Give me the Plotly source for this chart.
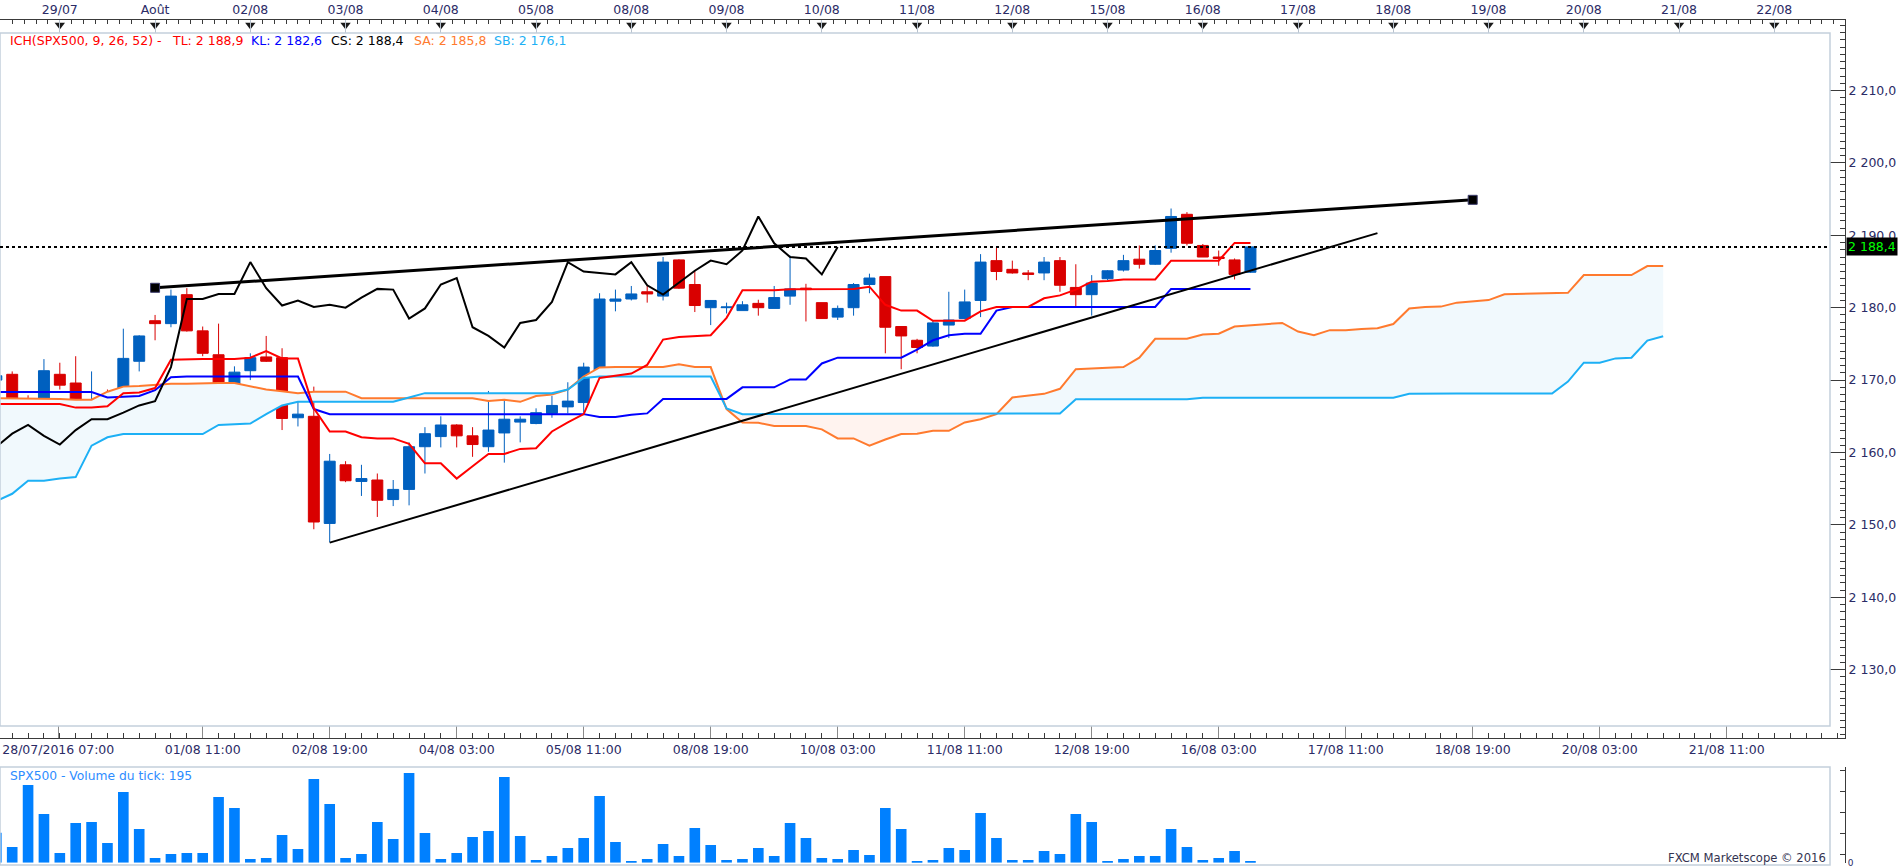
import plotly.graph_objects as go

# SPX500, 4h candles. x = bar slot (weekends removed), slot 0 = 28/07/2016 07:00
first_bar = -5

opens = [2170.0, 2170.8, 2164.6, 2163.3, 2170.8, 2169.6, 2165.1, 2166.9, 2166.9, 2172.6,
         2178.2, 2177.8, 2181.8, 2176.8, 2173.5, 2167.7, 2171.3, 2173.2, 2173.1, 2164.8,
         2165.0, 2150.2, 2158.3, 2156.0, 2156.2, 2153.5, 2154.9, 2160.8, 2162.2, 2163.8,
         2162.3, 2160.8, 2162.7, 2164.2, 2164.0, 2165.4, 2166.3, 2166.9, 2171.3, 2180.9,
         2181.2, 2182.2, 2181.6, 2186.6, 2183.2, 2180.0, 2180.0, 2179.6, 2180.6, 2179.9,
         2181.6, 2182.7, 2180.7, 2178.7, 2180.0, 2183.2, 2184.3, 2177.4, 2175.5, 2174.7,
         2177.6, 2178.5, 2181.0, 2186.5, 2185.3, 2184.8, 2184.8, 2186.5, 2182.8, 2181.8,
         2184.0, 2185.2, 2186.7, 2186.0, 2188.2, 2192.9, 2188.6, 2187.0, 2186.6, 2184.9]
highs = [2171.0, 2171.2, 2167.9, 2172.9, 2172.4, 2173.3, 2171.2, 2168.7, 2177.1, 2176.2,
         2179.0, 2182.5, 2182.7, 2177.4, 2177.8, 2171.9, 2173.7, 2176.1, 2174.4, 2167.4,
         2169.1, 2159.8, 2158.8, 2158.3, 2157.1, 2156.2, 2161.4, 2163.5, 2165.0, 2163.9,
         2163.5, 2168.5, 2167.9, 2165.0, 2166.1, 2167.8, 2169.7, 2172.4, 2182.0, 2182.5,
         2183.0, 2183.0, 2187.0, 2186.7, 2185.2, 2181.0, 2180.7, 2180.9, 2181.1, 2183.0,
         2187.2, 2183.3, 2180.7, 2180.3, 2183.4, 2184.7, 2184.3, 2177.4, 2175.7, 2178.2,
         2182.2, 2182.5, 2187.4, 2188.3, 2186.5, 2185.2, 2187.0, 2187.0, 2186.0, 2184.5,
         2185.2, 2187.3, 2188.6, 2188.6, 2193.7, 2193.2, 2188.8, 2187.9, 2186.8, 2188.5]
lows = [2169.5, 2162.5, 2159.2, 2162.9, 2168.7, 2163.0, 2163.9, 2163.8, 2162.9, 2171.2,
        2175.5, 2177.3, 2176.7, 2173.3, 2165.3, 2165.8, 2170.0, 2172.5, 2163.1, 2163.6,
        2149.4, 2147.6, 2155.9, 2154.0, 2151.1, 2152.6, 2152.7, 2157.1, 2160.7, 2160.7,
        2159.4, 2160.1, 2158.6, 2161.4, 2163.9, 2164.8, 2165.4, 2165.5, 2170.6, 2179.5,
        2181.0, 2180.7, 2181.0, 2182.6, 2179.4, 2177.6, 2179.2, 2179.6, 2178.9, 2179.9,
        2180.4, 2178.1, 2178.5, 2178.3, 2178.9, 2182.0, 2173.7, 2171.5, 2173.7, 2174.6,
        2175.8, 2178.4, 2178.7, 2183.8, 2184.7, 2183.8, 2183.8, 2182.2, 2180.2, 2178.9,
        2183.8, 2185.0, 2185.4, 2185.9, 2187.6, 2188.6, 2187.0, 2185.8, 2183.9, 2184.8]
closes = [2170.6, 2164.2, 2163.0, 2171.3, 2169.3, 2164.9, 2167.1, 2166.6, 2173.0, 2176.1,
          2177.8, 2181.6, 2176.8, 2173.7, 2168.0, 2171.1, 2173.1, 2172.6, 2164.7, 2165.3,
          2150.4, 2158.8, 2156.1, 2156.4, 2153.4, 2154.9, 2160.8, 2162.6, 2163.8, 2162.3,
          2161.1, 2163.1, 2164.6, 2164.6, 2165.5, 2166.5, 2167.1, 2171.8, 2181.2, 2181.2,
          2181.9, 2181.9, 2186.3, 2182.7, 2180.3, 2181.0, 2180.1, 2180.4, 2180.0, 2181.4,
          2182.6, 2182.5, 2178.5, 2179.9, 2183.2, 2184.1, 2177.3, 2176.1, 2174.5, 2177.9,
          2178.3, 2180.8, 2186.3, 2185.0, 2184.8, 2184.6, 2186.3, 2183.1, 2181.8, 2183.4,
          2185.1, 2186.5, 2186.0, 2187.9, 2192.6, 2188.9, 2187.0, 2186.8, 2184.6, 2188.4]
volumes = [3450, 1800, 8940, 5600, 1115, 4565, 4680, 2265, 8130, 3875,
           540, 1000, 1115, 1115, 7555, 6290, 425, 540, 3185, 1575,
           9625, 6750, 540, 1000, 4680, 2725, 10315, 3415, 425, 1115,
           2955, 3645, 9855, 3070, 310, 770, 1690, 2840, 7670, 2380,
           195, 425, 2150, 770, 3990, 2035, 310, 425, 1690, 770,
           4565, 2840, 540, 425, 1460, 885, 6290, 3875, 195, 310,
           1690, 1460, 5715, 2840, 310, 310, 1345, 1000, 5600, 4680,
           195, 425, 770, 770, 3875, 1805, 310, 540, 1345, 195]

# Ichimoku lines as drawn on the chart
tenkan = [2166.7, 2166.7, 2166.7, 2166.7, 2166.7, 2166.2, 2166.2, 2166.4, 2168.2, 2168.3,
          2168.9, 2172.8, 2172.9, 2172.9, 2172.9, 2172.9, 2173.1, 2174.0, 2173.0, 2173.0,
          2166.1, 2162.9, 2162.9, 2162.1, 2161.95, 2161.95, 2161.2, 2158.5, 2158.5, 2156.4,
          2158.1, 2159.8, 2159.8, 2160.5, 2160.6, 2162.9, 2164.15, 2165.3, 2170.3, 2170.65,
          2170.9, 2172.1, 2175.6, 2175.95, 2176.1, 2176.2, 2178.6, 2182.4, 2182.4, 2182.4,
          2182.55, 2182.55, 2182.55, 2182.55, 2182.6, 2182.9, 2180.4, 2179.6, 2179.6, 2178.2,
          2178.2, 2178.2, 2179.5, 2180.1, 2180.1, 2180.1, 2181.3, 2181.7, 2182.5, 2183.6,
          2183.7, 2183.9, 2183.9, 2183.9, 2186.5, 2186.5, 2186.5, 2186.5, 2188.95, 2188.95]
kijun = [2168.35, 2168.35, 2168.35, 2168.35, 2168.35, 2168.35, 2168.35, 2167.6, 2167.7, 2167.8,
         2168.6, 2170.4, 2170.5, 2170.5, 2170.5, 2170.5, 2170.5, 2170.5, 2170.5, 2170.5,
         2166.0, 2165.3, 2165.3, 2165.3, 2165.3, 2165.3, 2165.3, 2165.3, 2165.3, 2165.3,
         2165.3, 2165.3, 2165.3, 2165.3, 2165.3, 2165.3, 2165.3, 2165.3, 2164.9, 2164.9,
         2165.2, 2165.4, 2167.4, 2167.4, 2167.4, 2167.4, 2167.4, 2169.0, 2169.0, 2169.0,
         2170.1, 2170.1, 2172.3, 2173.1, 2173.1, 2173.1, 2173.1, 2173.1, 2174.2, 2175.5,
         2176.2, 2176.4, 2176.4, 2179.6, 2180.1, 2180.1, 2180.1, 2180.1, 2180.1, 2180.1,
         2180.1, 2180.1, 2180.1, 2180.1, 2182.6, 2182.6, 2182.6, 2182.6, 2182.6, 2182.6]
chikou = [2160.8, 2162.6, 2163.8, 2162.3, 2161.1, 2163.1, 2164.6, 2164.6, 2165.5, 2166.5,
          2167.1, 2171.8, 2181.2, 2181.2, 2181.9, 2181.9, 2186.3, 2182.7, 2180.3, 2181.0,
          2180.1, 2180.4, 2180.0, 2181.4, 2182.6, 2182.5, 2178.5, 2179.9, 2183.2, 2184.1,
          2177.3, 2176.1, 2174.5, 2177.9, 2178.3, 2180.8, 2186.3, 2185.0, 2184.8, 2184.6,
          2186.3, 2183.1, 2181.8, 2183.4, 2185.1, 2186.5, 2186.0, 2187.9, 2192.6, 2188.9,
          2187.0, 2186.8, 2184.6, 2188.4]
senkou_a = [2167.5, 2167.5, 2167.5, 2167.5, 2167.4, 2167.3, 2167.3, 2168.4, 2169.1, 2169.2,
            2169.4, 2169.5, 2169.5, 2169.6, 2169.6, 2169.6, 2169.2, 2168.7, 2168.45, 2168.2,
            2168.4, 2168.4, 2168.4, 2167.5, 2167.5, 2167.5, 2167.5, 2167.5, 2167.5, 2167.5,
            2167.5, 2167.1, 2167.3, 2167.0, 2167.8, 2168.0, 2168.7, 2170.5, 2171.75, 2171.8,
            2171.8, 2171.8, 2171.8, 2172.2, 2171.8, 2171.8, 2166.0, 2164.15, 2164.1, 2163.65,
            2163.65, 2163.65, 2163.2, 2161.95, 2161.95, 2160.95, 2161.8, 2162.55, 2162.6, 2163.0,
            2163.0, 2164.15, 2164.6, 2165.3, 2167.6, 2167.8, 2168.1, 2168.8, 2171.5, 2171.6,
            2171.7, 2171.8, 2173.1, 2175.7, 2175.7, 2175.7, 2176.3, 2176.4, 2177.4, 2177.6,
            2177.75, 2177.9, 2176.7, 2176.2, 2176.9, 2176.9, 2177.05, 2177.15, 2177.75, 2179.9,
            2180.1, 2180.15, 2180.7, 2180.9, 2181.05, 2181.85, 2181.9, 2181.9, 2182.0, 2182.05,
            2184.5, 2184.5, 2184.5, 2184.5, 2185.75, 2185.75]
senkou_b = [2153.3, 2154.3, 2156.1, 2156.1, 2156.4, 2156.6, 2160.95, 2162.1, 2162.55, 2162.55,
            2162.55, 2162.55, 2162.55, 2162.55, 2163.8, 2163.9, 2164.0, 2165.3, 2166.5, 2167.0,
            2167.0, 2167.0, 2167.0, 2167.0, 2167.0, 2167.0, 2167.6, 2168.2, 2168.2, 2168.2,
            2168.2, 2168.2, 2168.2, 2168.2, 2168.2, 2168.2, 2168.7, 2170.3, 2170.5, 2170.5,
            2170.5, 2170.5, 2170.5, 2170.5, 2170.5, 2170.5, 2166.1, 2165.3, 2165.3, 2165.3,
            2165.3, 2165.3, 2165.3, 2165.3, 2165.3, 2165.3, 2165.3, 2165.3, 2165.3, 2165.3,
            2165.3, 2165.3, 2165.3, 2165.3, 2165.3, 2165.3, 2165.3, 2165.4, 2167.35, 2167.35,
            2167.35, 2167.35, 2167.35, 2167.35, 2167.35, 2167.35, 2167.55, 2167.55, 2167.55, 2167.55,
            2167.55, 2167.55, 2167.55, 2167.55, 2167.55, 2167.55, 2167.55, 2167.55, 2167.55, 2168.1,
            2168.15, 2168.15, 2168.15, 2168.15, 2168.15, 2168.15, 2168.15, 2168.15, 2168.15, 2169.8,
            2172.4, 2172.4, 2173.0, 2173.1, 2175.45, 2176.05]

# hand drawn trend lines (bar slot, price)
upper_line_x = [5, 88]
upper_line_y = [2182.75, 2194.9]
lower_line_x = [16, 82]
lower_line_y = [2147.55, 2190.3]
last_price = 2188.4

day_labels = ['29/07', 'Août', '02/08', '03/08', '04/08', '05/08', '08/08', '09/08', '10/08',
              '11/08', '12/08', '15/08', '16/08', '17/08', '18/08', '19/08', '20/08', '21/08', '22/08']
time_labels = ['28/07/2016 07:00', '01/08 11:00', '02/08 19:00', '04/08 03:00', '05/08 11:00',
               '08/08 19:00', '10/08 03:00', '11/08 11:00', '12/08 19:00', '16/08 03:00',
               '17/08 11:00', '18/08 19:00', '20/08 03:00', '21/08 11:00']
price_ticks = [2130, 2140, 2150, 2160, 2170, 2180, 2190, 2200, 2210]

# colours
C_UP = '#0060BF'
C_DOWN = '#D90000'
C_TL = '#FF0000'
C_KL = '#0000FF'
C_SA = '#FF7A2E'
C_SB = '#1DB0F5'
C_CLOUD_UP = '#F1F9FD'
C_CLOUD_DN = '#FFF3EF'
C_VOL = '#0080FF'
C_TXT = '#2B2B66'
C_FRAME = '#C3CFDB'
FONT = 'DejaVu Sans'

# page geometry (px)
W, H = 1903, 868
AXIS_X = 1845          # right price axis line
FRAME_R = 1830
SLOT0_PX, SLOT_PX = 75.7, 15.875
P_REF, P_REF_PX, PX_PER_PT = 2190, 235.3, 7.24


def py(p):
    return 1 - p / H


def price_at(px):
    return P_REF - (px - P_REF_PX) / PX_PER_PT


def fmt(v):
    return f'{v:,.1f}'.replace(',', ' ').replace('.', ',')


x_bars = list(range(first_bar, first_bar + len(closes)))
x_cloud = list(range(first_bar, first_bar + len(senkou_a)))
x_chikou = list(range(first_bar, first_bar + len(chikou)))
x_range = [-SLOT0_PX / SLOT_PX, (AXIS_X - SLOT0_PX) / SLOT_PX]
y_range = [price_at(738), price_at(20)]
x_dom = [0, AXIS_X / W]

day_pos = [-1 + 6 * k for k in range(len(day_labels))]
time_pos = [-1.1] + [8 * k for k in range(1, len(time_labels))]

cloud_hi = [max(a, b) for a, b in zip(senkou_a, senkou_b)]
cloud_lo = [min(a, b) for a, b in zip(senkou_a, senkou_b)]

fig = go.Figure()

# cloud fills
fig.add_trace(go.Scatter(x=x_cloud, y=senkou_b, mode='lines', line=dict(width=0), hoverinfo='skip'))
fig.add_trace(go.Scatter(x=x_cloud, y=cloud_hi, mode='lines', line=dict(width=0),
                         fill='tonexty', fillcolor=C_CLOUD_UP, hoverinfo='skip'))
fig.add_trace(go.Scatter(x=x_cloud, y=senkou_b, mode='lines', line=dict(width=0), hoverinfo='skip'))
fig.add_trace(go.Scatter(x=x_cloud, y=cloud_lo, mode='lines', line=dict(width=0),
                         fill='tonexty', fillcolor=C_CLOUD_DN, hoverinfo='skip'))

# ichimoku lines
fig.add_trace(go.Scatter(x=x_cloud, y=senkou_a, mode='lines', line=dict(color=C_SA, width=2), name='SA'))
fig.add_trace(go.Scatter(x=x_cloud, y=senkou_b, mode='lines', line=dict(color=C_SB, width=2), name='SB'))
fig.add_trace(go.Scatter(x=x_bars, y=kijun, mode='lines', line=dict(color=C_KL, width=2), name='KL'))
fig.add_trace(go.Scatter(x=x_bars, y=tenkan, mode='lines', line=dict(color=C_TL, width=2), name='TL'))
fig.add_trace(go.Scatter(x=x_chikou, y=chikou, mode='lines', line=dict(color='black', width=2), name='CS'))

# candles
fig.add_trace(go.Candlestick(
    x=x_bars, open=opens, high=highs, low=lows, close=closes,
    increasing=dict(line=dict(color=C_UP, width=1), fillcolor=C_UP),
    decreasing=dict(line=dict(color=C_DOWN, width=1), fillcolor=C_DOWN),
    whiskerwidth=0, name='SPX500'))

# trend lines
fig.add_trace(go.Scatter(x=lower_line_x, y=lower_line_y, mode='lines',
                         line=dict(color='black', width=2)))
fig.add_trace(go.Scatter(x=upper_line_x, y=upper_line_y, mode='lines+markers',
                         line=dict(color='black', width=3),
                         marker=dict(symbol='square', size=9, color='black',
                                     line=dict(color='#3A3A6A', width=1))))

# day markers on the top ruler
fig.add_trace(go.Scatter(x=day_pos, y=[price_at(25)] * len(day_pos), xaxis='x2', mode='markers',
                         marker=dict(symbol='triangle-down', size=9, color='#1A1A1A'),
                         cliponaxis=False, hoverinfo='skip'))

# volume
fig.add_trace(go.Bar(x=x_bars, y=volumes, width=0.67, marker=dict(color=C_VOL, line=dict(width=0)),
                     xaxis='x3', yaxis='y2', name='Volume'))

axis_font = dict(family=FONT, size=12.5, color=C_TXT)

fig.update_layout(
    width=W, height=H,
    margin=dict(l=0, r=0, t=0, b=0),
    paper_bgcolor='white', plot_bgcolor='white',
    showlegend=False,
    boxgap=0.31, boxgroupgap=0,
    font=dict(family=FONT, size=12.5, color=C_TXT),
    xaxis=dict(domain=x_dom, range=x_range, anchor='y', showgrid=False, zeroline=False,
               rangeslider=dict(visible=False),
               tickmode='array', tickvals=time_pos, ticktext=time_labels,
               ticks='inside', ticklen=12, tickcolor='#8A8A8A', tickwidth=1,
               showline=True, linecolor='#3A3A3A', linewidth=1,
               tickfont=axis_font, automargin=False,
               minor=dict(dtick=1, tick0=0, ticks='inside', ticklen=5, tickcolor='#3A3A3A')),
    xaxis2=dict(domain=x_dom, range=x_range, overlaying='x', side='top', anchor='y',
                showgrid=False, zeroline=False,
                tickmode='array', tickvals=day_pos, ticktext=day_labels,
                ticks='inside', ticklen=13, tickcolor='#B8C2CE', tickwidth=1,
                showline=True, linecolor='#3A3A3A', linewidth=1,
                tickfont=axis_font, automargin=False,
                minor=dict(dtick=0.75, tick0=-1, ticks='inside', ticklen=4, tickcolor='#3A3A3A')),
    xaxis3=dict(domain=x_dom, range=x_range, anchor='y2', showgrid=False, zeroline=False,
                showticklabels=False, ticks='', showline=False),
    yaxis=dict(domain=[py(738), py(20)], range=y_range, side='right', anchor='x',
               showgrid=False, zeroline=False,
               tickmode='array', tickvals=price_ticks, ticktext=[fmt(v) for v in price_ticks],
               ticks='inside', ticklen=15, tickcolor='#3A3A3A', tickwidth=1,
               showline=True, linecolor='#3A3A3A', linewidth=1,
               tickfont=axis_font, automargin=False,
               minor=dict(dtick=1, ticks='inside', ticklen=5, tickcolor='#3A3A3A')),
    yaxis2=dict(domain=[py(862.7), py(767.3)], range=[0, 10971], side='right', anchor='x3',
                showgrid=False, zeroline=False,
                tickmode='array', tickvals=[0], ticktext=['0'],
                ticks='inside', ticklen=8, tickcolor='#3A3A3A',
                showline=True, linecolor='#3A3A3A', linewidth=1,
                tickfont=dict(family=FONT, size=9, color=C_TXT), automargin=False,
                minor=dict(tick0=1000, dtick=2415, ticks='inside', ticklen=5, tickcolor='#3A3A3A')),
)

# panel frames and last price line
fig.add_shape(type='rect', xref='paper', yref='paper', x0=0, x1=FRAME_R / W, y0=py(726), y1=py(33),
              line=dict(color=C_FRAME, width=1.5), layer='above')
fig.add_shape(type='rect', xref='paper', yref='paper', x0=0, x1=FRAME_R / W, y0=py(865), y1=py(767),
              line=dict(color=C_FRAME, width=1.5), layer='above')
fig.add_shape(type='line', xref='paper', yref='y', x0=0, x1=1827 / W, y0=last_price, y1=last_price,
              line=dict(color='black', width=2, dash='3px,3px'))

# indicator header
header = [('ICH(SPX500, 9, 26, 52) -', C_TL, 7.7),
          ('TL: 2 188,9', C_TL, 170),
          ('KL: 2 182,6', C_KL, 249),
          ('CS: 2 188,4', 'black', 329),
          ('SA: 2 185,8', C_SA, 412),
          ('SB: 2 176,1', C_SB, 492)]
for text, col, xpx in header:
    fig.add_annotation(text=text, xref='paper', yref='paper', x=xpx / W, y=py(41),
                       xanchor='left', yanchor='middle', showarrow=False,
                       font=dict(family=FONT, size=12.5, color=col))

fig.add_annotation(text='SPX500 - Volume du tick: 195', xref='paper', yref='paper',
                   x=8 / W, y=py(776), xanchor='left', yanchor='middle', showarrow=False,
                   font=dict(family=FONT, size=12.3, color='#2D8CFF'))
fig.add_annotation(text='FXCM Marketscope © 2016', xref='paper', yref='paper',
                   x=1828 / W, y=py(858), xanchor='right', yanchor='middle', showarrow=False,
                   font=dict(family=FONT, size=11.6, color='#333350'))
fig.add_annotation(text=fmt(last_price), xref='paper', yref='y', x=(AXIS_X + 1) / W, y=last_price,
                   xanchor='left', yanchor='middle', showarrow=False, bgcolor='black',
                   borderpad=1, font=dict(family=FONT, size=12.5, color='#00FF00'))

fig.write_html("out.html", config={'displayModeBar': False},
               post_script="document.body.style.margin='0';document.body.style.overflow='hidden';")
